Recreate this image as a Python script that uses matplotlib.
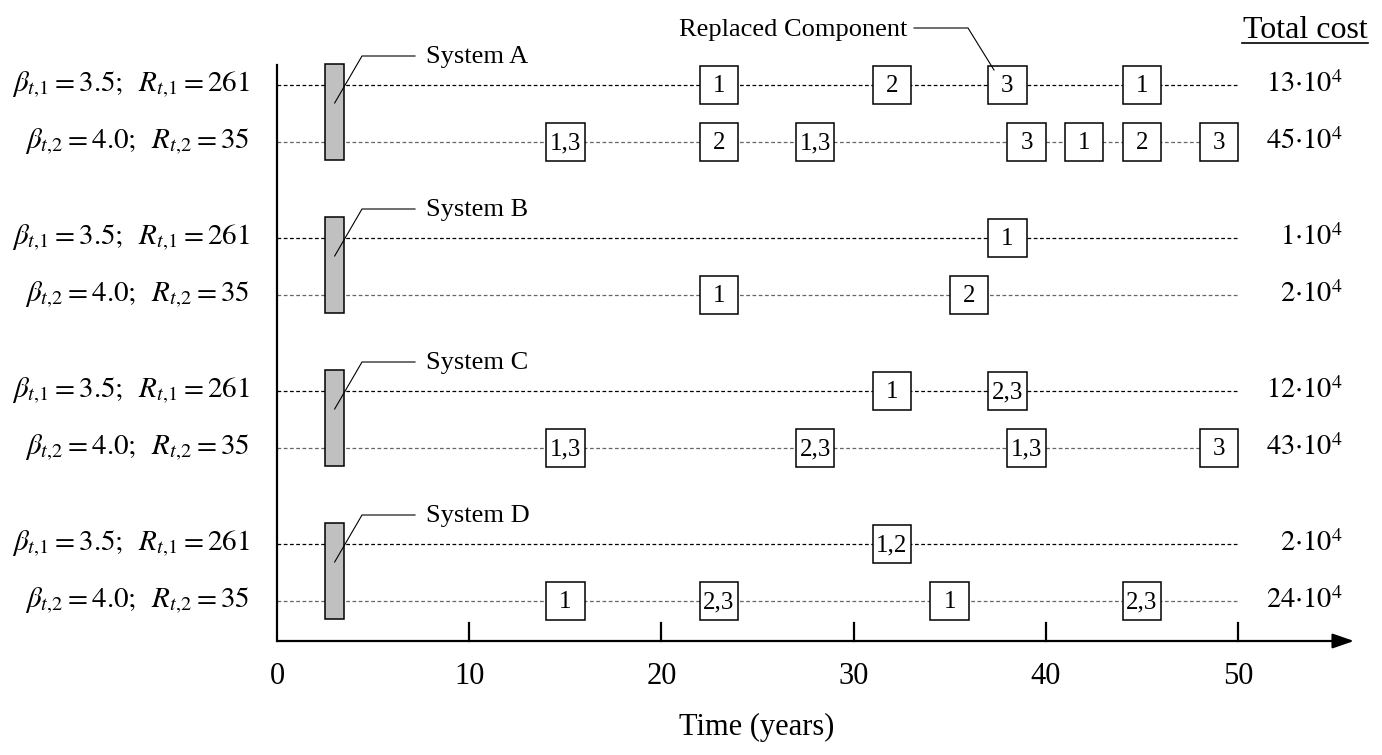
import matplotlib.pyplot as plt
from matplotlib.patches import Rectangle

plt.rcParams["font.family"] = ["Liberation Serif", "DejaVu Serif"]
plt.rcParams["mathtext.fontset"] = "stix"

# replacement schedule: years and replaced components for each system/target
systems = ["System A", "System B", "System C", "System D"]
beta_t = ["3.5", "4.0"]
r_t = [261, 35]

years_a1 = [23, 32, 38, 45]
comp_a1 = ["1", "2", "3", "1"]
years_a2 = [15, 23, 28, 39, 42, 45, 49]
comp_a2 = ["1,3", "2", "1,3", "3", "1", "2", "3"]

years_b1 = [38]
comp_b1 = ["1"]
years_b2 = [23, 36]
comp_b2 = ["1", "2"]

years_c1 = [32, 38]
comp_c1 = ["1", "2,3"]
years_c2 = [15, 28, 39, 49]
comp_c2 = ["1,3", "2,3", "1,3", "3"]

years_d1 = [32]
comp_d1 = ["1,2"]
years_d2 = [15, 23, 35, 45]
comp_d2 = ["1", "2,3", "1", "2,3"]

cost_a = [13, 45]
cost_b = [1, 2]
cost_c = [12, 43]
cost_d = [2, 24]

x_ticks = [0, 10, 20, 30, 40, 50]
t_end = 50
inspect_year = 3

schedule = [
    [(years_a1, comp_a1), (years_a2, comp_a2)],
    [(years_b1, comp_b1), (years_b2, comp_b2)],
    [(years_c1, comp_c1), (years_c2, comp_c2)],
    [(years_d1, comp_d1), (years_d2, comp_d2)],
]
costs = [cost_a, cost_b, cost_c, cost_d]

# layout (vertical units are pixels from top)
W, H = 1382, 755
k = 19.22          # pixels per year
x0 = 277           # pixel of year 0
row0, sys_gap, row_gap = 85, 153, 57
box_h = 38
axis_y = 641

fig = plt.figure(figsize=(W / 100, H / 100), dpi=100)
ax = fig.add_axes([0, 0, 1, 1])
ax.set_xlim(-x0 / k, (W - x0) / k)
ax.set_ylim(H, 0)
ax.axis("off")


def px(p):
    return (p - x0) / k


for i, name in enumerate(systems):
    y1 = row0 + sys_gap * i
    rows = [y1, y1 + row_gap]
    for j, y in enumerate(rows):
        ax.plot([0, t_end], [y, y], ls=(0, (3, 2)), lw=0.9,
                color="black" if j == 0 else "#666666", zorder=1)
        yrs, comps = schedule[i][j]
        for t, c in zip(yrs, comps):
            ax.add_patch(Rectangle((t - 1, y - box_h / 2), 2, box_h,
                                   facecolor="white", edgecolor="black",
                                   lw=1.1, zorder=3))
            ax.text(t, y + 1, c, ha="center", va="center", fontsize=18, zorder=4)
        ax.text(px(250), y,
                r"$\beta_{t{,}%d} = %s;\;\; R_{t{,}%d} = %d$" % (j + 1, beta_t[j], j + 1, r_t[j]),
                ha="right", va="center", fontsize=21)
        ax.text(px(1343), y, r"$%d{\cdot}10^{4}$" % costs[i][j],
                ha="right", va="center", fontsize=20.5)

    # inspection bar and its leader line
    ax.add_patch(Rectangle((inspect_year - 0.5, rows[0] - 21), 1,
                           rows[1] - rows[0] + 39, facecolor="#c0c0c0",
                           edgecolor="black", lw=1.1, zorder=2))
    ly = rows[0] - 29
    ax.plot([inspect_year, px(362), px(415)], [rows[0] + 18, ly, ly],
            color="black", lw=0.8, zorder=4)
    ax.text(px(426), rows[0] - 22, name, ha="left", va="baseline", fontsize=19)

# annotation for replaced components
ax.plot([px(914), px(968), px(994)], [28, 28, 70], color="black", lw=0.8, zorder=4)
ax.text(px(907), 36, "Replaced Component", ha="right", va="baseline", fontsize=19)

# column title
ax.text(px(1305), 38, "Total cost", ha="center", va="baseline", fontsize=23)
ax.plot([px(1242), px(1368)], [43, 43], color="black", lw=1.2)

# axes with arrow and inward ticks
ax.plot([0, 0], [65, axis_y], color="black", lw=1.6)
ax.annotate("", xy=(px(1354), axis_y), xytext=(0, axis_y),
            arrowprops=dict(arrowstyle="-|>,head_length=1.3,head_width=0.45",
                            color="black", lw=1.6, shrinkA=0, shrinkB=0))
for t in x_ticks:
    if t > 0:
        ax.plot([t, t], [axis_y, axis_y - 18], color="black", lw=1.6)
    ax.text(t, 684, str(t), ha="center", va="baseline", fontsize=22)

ax.text(px(757), 735, "Time (years)", ha="center", va="baseline", fontsize=22)

fig.savefig("out.png", dpi=100)
